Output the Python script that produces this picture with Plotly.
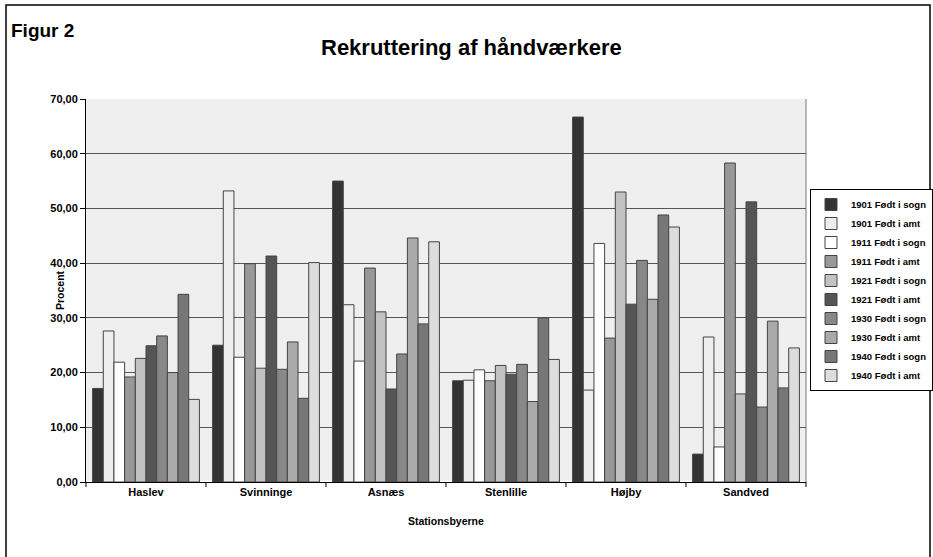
import plotly.graph_objects as go

categories = ["Haslev", "Svinninge", "Asnæs", "Stenlille", "Højby", "Sandved"]
series_names = ["1901 Født i sogn", "1901 Født i amt", "1911 Født i sogn", "1911 Født i amt",
                "1921 Født i sogn", "1921 Født i amt", "1930 Født i sogn", "1930 Født i amt",
                "1940 Født i sogn", "1940 Født i amt"]
values = [
    [17.1, 25.0, 55.0, 18.5, 66.7, 5.1],
    [27.6, 53.2, 32.4, 18.6, 16.8, 26.5],
    [21.9, 22.8, 22.1, 20.5, 43.6, 6.4],
    [19.2, 39.9, 39.1, 18.5, 26.3, 58.3],
    [22.6, 20.8, 31.1, 21.3, 53.0, 16.1],
    [24.9, 41.3, 17.0, 19.7, 32.5, 51.2],
    [26.7, 20.6, 23.4, 21.5, 40.5, 13.7],
    [20.0, 25.6, 44.6, 14.7, 33.4, 29.4],
    [34.3, 15.3, 28.9, 30.0, 48.8, 17.2],
    [15.1, 40.1, 43.9, 22.4, 46.6, 24.5],
]
colors = ["#333333", "#eeeeee", "#ffffff", "#999999", "#c2c2c2",
          "#555555", "#888888", "#aaaaaa", "#777777", "#dddddd"]
tick_vals = [0, 10, 20, 30, 40, 50, 60, 70]
tick_text = ["0,00", "10,00", "20,00", "30,00", "40,00", "50,00", "60,00", "70,00"]

FONT = "Liberation Sans, Arial, sans-serif"

# pixel layout helpers (figure is 933 x 557)
W, H = 933, 557
L, T, B = 86, 99, 75
PW = W - L              # paper width (right margin 0, axis domain limited)
PLOT_W = 720
PLOT_H = H - T - B      # 383

def px(x):
    return (x - L) / PW

def py(y):
    return (H - B - y) / PLOT_H

fig = go.Figure()
for name, vals, col in zip(series_names, values, colors):
    fig.add_trace(go.Bar(
        name=name, x=categories, y=vals,
        marker=dict(color=col, line=dict(color="#444444", width=1)),
    ))

fig.update_layout(
    width=W, height=H, autosize=False,
    barmode="group", bargap=0.11, bargroupgap=0,
    paper_bgcolor="white", plot_bgcolor="#efefef",
    margin=dict(l=L, r=0, t=T, b=B, pad=0),
    font=dict(family=FONT, color="black", size=10),
    showlegend=True,
    legend=dict(x=px(810), y=py(189), xanchor="left", yanchor="top",
                bgcolor="white", bordercolor="black", borderwidth=1,
                font=dict(size=9.5, family=FONT, weight="bold"), tracegroupgap=0,
                itemwidth=30),
    xaxis=dict(domain=[0, PLOT_W / PW], showline=True, linecolor="black", linewidth=1,
               ticks="", tickfont=dict(size=11, family=FONT),
               tickvals=categories, ticktext=["<b>%s</b>" % c for c in categories]),
    yaxis=dict(range=[0, 70], tickvals=tick_vals, ticktext=["<b>%s</b>" % t for t in tick_text],
               showline=True, linecolor="black", linewidth=1,
               ticks="outside", ticklen=5, tickcolor="black",
               gridcolor="#555555", gridwidth=1,
               tickfont=dict(size=11, family=FONT)),
)

# category separator ticks on x axis
for i in range(len(categories) + 1):
    fig.add_shape(type="line", xref="x domain", yref="y domain",
                  x0=i / len(categories), x1=i / len(categories), y0=0, y1=-5 / PLOT_H,
                  line=dict(color="black", width=1))
# right border of plot area
fig.add_shape(type="line", xref="x domain", yref="y domain", x0=1, x1=1, y0=0, y1=1,
              line=dict(color="#777777", width=1))
# outer frame
fig.add_shape(type="rect", xref="paper", yref="paper",
              x0=px(6), x1=px(930), y0=py(575), y1=py(5),
              line=dict(color="black", width=1.5), fillcolor="rgba(0,0,0,0)", layer="below")

fig.add_annotation(text="<b>Rekruttering af håndværkere</b>", xref="paper", yref="paper",
                   x=px(471), y=py(48), xanchor="center", yanchor="middle",
                   showarrow=False, font=dict(size=22, family=FONT))
fig.add_annotation(text="<b>Figur 2</b>", xref="paper", yref="paper",
                   x=px(9), y=py(30), xanchor="left", yanchor="middle",
                   showarrow=False, font=dict(size=19, family=FONT))
fig.add_annotation(text="<b>Procent</b>", xref="paper", yref="paper",
                   x=px(60), y=py(290), xanchor="center", yanchor="middle", textangle=-90,
                   showarrow=False, font=dict(size=10.5, family=FONT))
fig.add_annotation(text="<b>Stationsbyerne</b>", xref="paper", yref="paper",
                   x=px(446), y=py(521), xanchor="center", yanchor="middle",
                   showarrow=False, font=dict(size=10.5, family=FONT))

fig.write_html(
    "out.html",
    config={"displayModeBar": False, "responsive": False},
    post_script=("document.body.style.margin='0px';"
                 "document.body.style.overflow='hidden';"
                 "document.documentElement.style.overflow='hidden';"),
)
